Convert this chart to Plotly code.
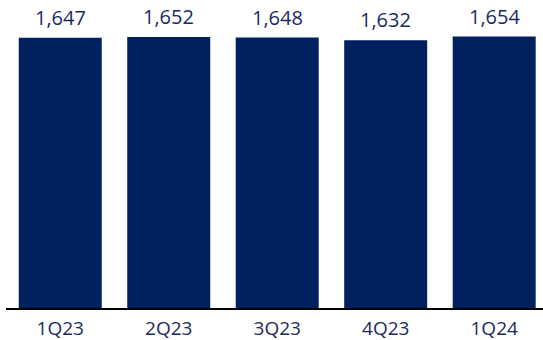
import plotly.graph_objects as go

categories = ["1Q23", "2Q23", "3Q23", "4Q23", "1Q24"]
values = [1647, 1652, 1648, 1632, 1654]
labels = ["1,647", "1,652", "1,648", "1,632", "1,654"]

bar_color = "#002060"
text_color = "#1b2a5e"
font_family = "Open Sans, Lato, sans-serif"

fig = go.Figure()
fig.add_trace(go.Bar(x=categories, y=values, marker=dict(color=bar_color, line=dict(width=0)),
                     hoverinfo="skip"))

for c, v, t in zip(categories, values, labels):
    fig.add_annotation(x=c, y=v, text=t, showarrow=False, yanchor="bottom", yshift=5,
                       font=dict(family=font_family, size=20, color=text_color))

fig.update_layout(
    width=543, height=340,
    margin=dict(l=6, r=0, t=0, b=32, autoexpand=False),
    paper_bgcolor="white", plot_bgcolor="white",
    bargap=0.235,
    showlegend=False,
    xaxis=dict(range=[-0.5, 4.45], showline=True, linecolor="black", linewidth=1.5,
               ticks="", ticklabelstandoff=2, automargin=False,
               tickfont=dict(family=font_family, size=19, color=text_color),
               showgrid=False, zeroline=False, fixedrange=True),
    yaxis=dict(range=[0, 1877], visible=False, showgrid=False, zeroline=False, fixedrange=True,
               automargin=False),
)

fig.write_html("out.html")
